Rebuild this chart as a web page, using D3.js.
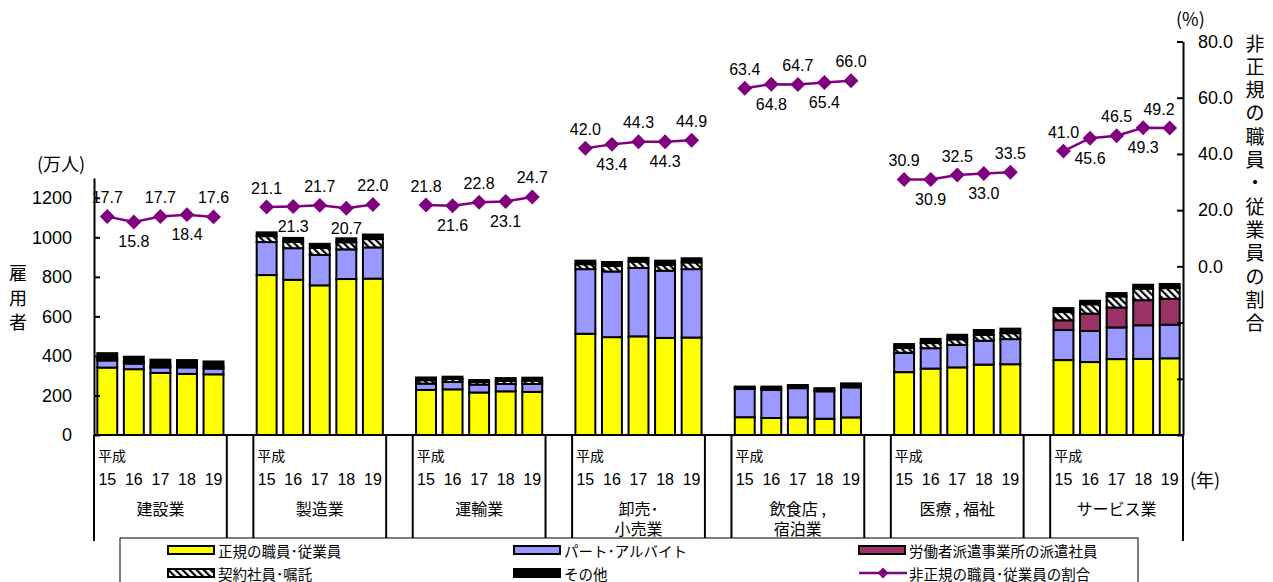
<!DOCTYPE html>
<html>
<head>
<meta charset="utf-8">
<script src="https://cdn.jsdelivr.net/npm/d3@7"></script>
<style>
  body { margin: 0; background: #fff; }
  text { fill: #000; }
  .num { font-family: "Liberation Sans", Arial, "Noto Sans CJK JP", sans-serif; }
  .jp { font-family: "Noto Sans CJK JP", "Liberation Sans", sans-serif; }
</style>
</head>
<body>
<svg id="chart" width="1273" height="582"></svg>
<script>
// 産業別 雇用者の内訳（万人）と非正規の職員・従業員の割合（%）
const industries = [["建設業"], ["製造業"], ["運輸業"], ["卸売･", "小売業"], ["飲食店 ,", "宿泊業"], ["医療 , 福祉"], ["サービス業"]];
const years = ["15", "16", "17", "18", "19"];

const regular = [
  [341, 333, 314, 309, 307],
  [809, 785, 757, 789, 791],
  [228, 231, 215, 221, 218],
  [512, 495, 499, 491, 493],
  [90, 86, 89, 82, 89],
  [318, 336, 342, 356, 358],
  [379, 369, 384, 385, 388]
];
const part = [
  [36, 28, 28, 33, 29],
  [167, 160, 154, 150, 158],
  [32, 37, 40, 37, 40],
  [327, 332, 346, 340, 346],
  [143, 143, 148, 139, 152],
  [98, 103, 114, 121, 127],
  [152, 157, 160, 170, 170]
];
const dispatch = [
  [0, 0, 0, 0, 0],
  [0, 0, 0, 0, 0],
  [0, 0, 0, 0, 0],
  [0, 0, 0, 0, 0],
  [0, 0, 0, 0, 0],
  [0, 0, 0, 0, 0],
  [49, 88, 101, 127, 131]
];
const contract = [
  [10, 9, 9, 10, 10],
  [30, 32, 35, 36, 42],
  [17, 15, 13, 16, 17],
  [25, 28, 32, 30, 34],
  [5, 6, 6, 6, 7],
  [24, 26, 28, 30, 30],
  [42, 47, 56, 58, 54]
];
const other = [
  [27, 26, 30, 27, 26],
  [19, 20, 21, 20, 23],
  [14, 12, 10, 14, 15],
  [18, 20, 19, 21, 21],
  [7, 10, 10, 10, 13],
  [20, 21, 23, 24, 23],
  [20, 18, 17, 20, 21]
];
const ratio = [
  [17.7, 15.8, 17.7, 18.4, 17.6],
  [21.1, 21.3, 21.7, 20.7, 22.0],
  [21.8, 21.6, 22.8, 23.1, 24.7],
  [42.0, 43.4, 44.3, 44.3, 44.9],
  [63.4, 64.8, 64.7, 65.4, 66.0],
  [30.9, 30.9, 32.5, 33.0, 33.5],
  [41.0, 45.6, 46.5, 49.3, 49.2]
];
const leftTicks = [0, 200, 400, 600, 800, 1000, 1200];
const rightTicks = [-60, -40, -20, 0, 20, 40, 60, 80];

const seriesKeys = ["regular", "part", "dispatch", "contract", "other"];
const seriesNames = {
  regular: "正規の職員･従業員",
  part: "パート･アルバイト",
  dispatch: "労働者派遣事業所の派遣社員",
  contract: "契約社員･嘱託",
  other: "その他"
};
const lineName = "非正規の職員･従業員の割合";

const fills = {
  regular: "#ffff00",
  part: "#9999ff",
  dispatch: "#993366",
  contract: "url(#hatch)",
  other: "#000000"
};
const lineColor = "#800080";

const svg = d3.select("#chart");
const left = 94, right = 1183, baseY = 435;

// hatch for 契約社員･嘱託
const defs = svg.append("defs");
const pat = defs.append("pattern")
  .attr("id", "hatch")
  .attr("patternUnits", "userSpaceOnUse")
  .attr("width", 5).attr("height", 5)
  .attr("patternTransform", "rotate(-45)");
pat.append("rect").attr("width", 5).attr("height", 5).attr("fill", "#fff");
pat.append("line").attr("x1", 1).attr("y1", 0).attr("x2", 1).attr("y2", 5)
  .attr("stroke", "#000").attr("stroke-width", 2.4);

// category slots: 5 years per industry, one blank slot between industries
const slots = [];
industries.forEach((_, i) => {
  years.forEach((_, j) => slots.push(`${i}-${j}`));
  if (i < industries.length - 1) slots.push(`gap-${i}`);
});

const x = d3.scaleBand().domain(slots).range([left, right])
  .paddingInner(0.25).paddingOuter(0.125);
const yL = d3.scaleLinear().domain([0, 1300]).range([baseY, 178]);
const yR = d3.scaleLinear().domain([-60, 80]).range([baseY, 41.5]);
const bw = x.bandwidth();
const slotPad = (x.step() - bw) / 2;
const cx = (i, j) => x(`${i}-${j}`) + bw / 2;

// stacked bars
const rows = [];
industries.forEach((_, i) => years.forEach((_, j) => rows.push({
  slot: `${i}-${j}`,
  regular: regular[i][j],
  part: part[i][j],
  dispatch: dispatch[i][j],
  contract: contract[i][j],
  other: other[i][j]
})));
const stacked = d3.stack().keys(seriesKeys)(rows);

svg.append("g").selectAll("g").data(stacked).join("g")
  .attr("fill", d => fills[d.key])
  .selectAll("rect").data(d => d.filter(s => s[1] > s[0])).join("rect")
  .attr("x", d => x(d.data.slot))
  .attr("width", bw)
  .attr("y", d => yL(d[1]))
  .attr("height", d => yL(d[0]) - yL(d[1]))
  .attr("stroke", "#000")
  .attr("stroke-width", 2);

// axes
const gL = svg.append("g").attr("transform", `translate(${left},0)`)
  .call(d3.axisLeft(yL).tickValues(leftTicks).tickSizeInner(-6).tickSizeOuter(0).tickPadding(22)
    .tickFormat(d3.format("d")));
const gR = svg.append("g").attr("transform", `translate(${right},0)`)
  .call(d3.axisRight(yR).tickValues(rightTicks).tickSizeInner(-6).tickSizeOuter(0).tickPadding(15)
    .tickFormat(d => d >= 0 ? d3.format(".1f")(d) : ""));
[gL, gR].forEach(g => {
  g.selectAll("path, line").attr("stroke", "#000").attr("stroke-width", 2);
  g.selectAll("text").attr("class", "num").attr("font-size", 18).attr("fill", "#000");
});

// category axis: base line and group frames
svg.append("line").attr("x1", left).attr("x2", right).attr("y1", baseY).attr("y2", baseY)
  .attr("stroke", "#000").attr("stroke-width", 2);
const groupLeft = i => x(`${i}-0`) - slotPad;
const bounds = [];
industries.forEach((_, i) => bounds.push(groupLeft(i), groupLeft(i) + 5 * x.step()));
svg.append("g").selectAll("line").data(bounds).join("line")
  .attr("x1", d => d).attr("x2", d => d)
  .attr("y1", baseY).attr("y2", 541)
  .attr("stroke", "#000").attr("stroke-width", 2);

const cat = svg.append("g");
industries.forEach((name, i) => {
  const gl = groupLeft(i);
  cat.append("text").attr("class", "jp").attr("font-size", 14)
    .attr("x", gl + 4).attr("y", 455).attr("dominant-baseline", "central")
    .text("平成");
  years.forEach((yr, j) => {
    cat.append("text").attr("class", "num").attr("font-size", 16)
      .attr("x", cx(i, j)).attr("y", 479).attr("text-anchor", "middle")
      .attr("dominant-baseline", "central").text(yr);
  });
  name.forEach((line, k) => {
    cat.append("text").attr("class", "jp").attr("font-size", 16)
      .attr("x", gl + 2.5 * x.step()).attr("y", 508 + k * 20)
      .attr("text-anchor", "middle").attr("dominant-baseline", "central")
      .text(line);
  });
});

// ratio lines with diamond markers and value labels
const lineGen = d3.line().x(d => d.x).y(d => d.y);
const diamond = d3.symbol(d3.symbolSquare, 112);
const pts = ratio.map((vals, i) => vals.map((v, j) => ({ x: cx(i, j), y: yR(v), v, j })));
const lg = svg.append("g");
pts.forEach(p => {
  lg.append("path").attr("d", lineGen(p)).attr("fill", "none")
    .attr("stroke", lineColor).attr("stroke-width", 2.5);
  lg.selectAll(null).data(p).join("path")
    .attr("d", diamond)
    .attr("transform", d => `translate(${d.x},${d.y}) rotate(45)`)
    .attr("fill", lineColor);
  lg.selectAll(null).data(p).join("text")
    .attr("class", "num").attr("font-size", 16)
    .attr("x", d => Math.min(d.x, right - 24))
    .attr("y", d => d.j % 2 === 0 ? d.y - 19 : d.y + 20)
    .attr("text-anchor", "middle").attr("dominant-baseline", "central")
    .text(d => d3.format(".1f")(d.v));
});

// axis titles
svg.append("text").attr("class", "jp").attr("font-size", 18)
  .attr("x", 37).attr("y", 163).attr("dominant-baseline", "central").text("(万人)");
const leftTitle = "雇用者";
svg.append("g").selectAll("text").data([...leftTitle]).join("text")
  .attr("class", "jp").attr("font-size", 18)
  .attr("x", 18).attr("y", (d, k) => 272 + k * 24.5)
  .attr("text-anchor", "middle").attr("dominant-baseline", "central").text(d => d);
svg.append("text").attr("class", "jp").attr("font-size", 18)
  .attr("x", 1176).attr("y", 18).attr("dominant-baseline", "central").text("(%)");
const rightTitle = "非正規の職員・従業員の割合";
svg.append("g").selectAll("text").data([...rightTitle]).join("text")
  .attr("class", "jp").attr("font-size", 19)
  .attr("x", 1255).attr("y", (d, k) => 42 + k * 23.3)
  .attr("text-anchor", "middle").attr("dominant-baseline", "central").text(d => d);
svg.append("text").attr("class", "jp").attr("font-size", 18)
  .attr("x", 1190).attr("y", 479).attr("dominant-baseline", "central").text("(年)");

// legend
const legend = svg.append("g");
legend.append("rect").attr("x", 120).attr("y", 538).attr("width", 1018).attr("height", 60)
  .attr("fill", "#fff").attr("stroke", "#000").attr("stroke-width", 1);
const colX = [168, 514, 859];
const rowY = [550, 573];
const legendItems = [
  { key: "regular", col: 0, row: 0 },
  { key: "part", col: 1, row: 0 },
  { key: "dispatch", col: 2, row: 0 },
  { key: "contract", col: 0, row: 1 },
  { key: "other", col: 1, row: 1 },
  { key: "line", col: 2, row: 1 }
];
legendItems.forEach(it => {
  const lx = colX[it.col], ly = rowY[it.row];
  if (it.key === "line") {
    legend.append("line").attr("x1", lx).attr("x2", lx + 48).attr("y1", ly).attr("y2", ly)
      .attr("stroke", lineColor).attr("stroke-width", 2.5);
    legend.append("path").attr("d", d3.symbol(d3.symbolSquare, 60))
      .attr("transform", `translate(${lx + 24},${ly}) rotate(45)`).attr("fill", lineColor);
  } else {
    legend.append("rect").attr("x", lx).attr("y", ly - 4).attr("width", 46).attr("height", 8)
      .attr("fill", fills[it.key]).attr("stroke", "#000").attr("stroke-width", 2);
  }
  legend.append("text").attr("class", "jp").attr("font-size", 14.5)
    .attr("x", lx + 50).attr("y", ly).attr("dominant-baseline", "central")
    .text(it.key === "line" ? lineName : seriesNames[it.key]);
});
</script>
</body>
</html>
